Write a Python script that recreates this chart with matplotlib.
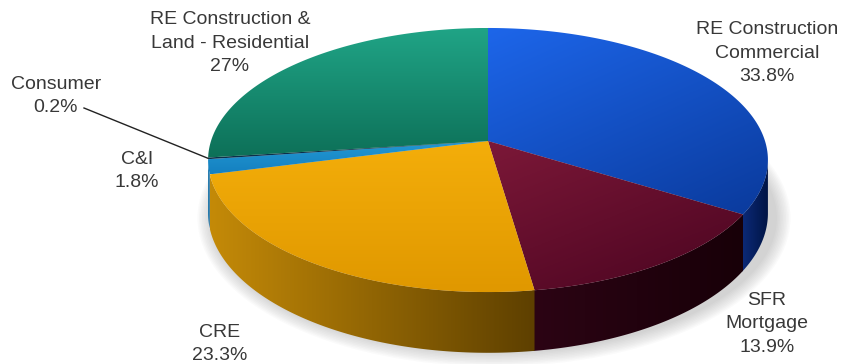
import numpy as np
import matplotlib
matplotlib.use("Agg")
import matplotlib.pyplot as plt
from matplotlib.patches import Polygon, Ellipse
from matplotlib.colors import LinearSegmentedColormap

# Loan portfolio mix
categories = [
    "RE Construction\nCommercial",
    "SFR\nMortgage",
    "CRE",
    "C&I",
    "Consumer",
    "RE Construction &\nLand - Residential",
]
shares = [33.8, 13.9, 23.3, 1.8, 0.2, 27.0]

# top colour pairs (light, dark) and wall colour pairs
top_colors = [
    ("#1d66ea", "#0a3a9c"),
    ("#7c1838", "#4a0420"),
    ("#f4ae0a", "#e09800"),
    ("#2399d4", "#1480c0"),
    ("#0b2f4a", "#0b2f4a"),
    ("#20a486", "#0d7058"),
]
wall_colors = [
    ("#0c2a78", "#001445"),
    ("#2c0414", "#180008"),
    ("#c48a08", "#5e4000"),
    ("#1a78b0", "#10608f"),
    ("#0b2f4a", "#0b2f4a"),
    ("#0d745a", "#0a5a46"),
]

# label anchors in pixel space
label_pos = [(767, 53), (767, 324), (220, 344), (137, 171), (56, 96), (230, 43)]

# pie geometry in pixels: apex, radius, vertical squash, perspective, height
CX, CY = 488, 141
RX, SY = 277, 129.3
K = 0.144
H = 52


def project(theta_deg, drop=0.0):
    t = np.radians(theta_deg)
    w = 1 + K * np.sin(t)
    x = CX + RX * np.cos(t) / w
    y = CY - SY * np.sin(t) / w + drop / w
    return x, y


def fill_gradient(ax, xs, ys, c0, c1, direction="v", z=2):
    poly = Polygon(np.column_stack([xs, ys]), closed=True,
                   facecolor="none", edgecolor="none", zorder=z)
    ax.add_patch(poly)
    x0, x1 = xs.min(), xs.max()
    y0, y1 = ys.min(), ys.max()
    n = 200
    gy, gx = np.mgrid[0:1:n * 1j, 0:1:n * 1j]
    if direction == "v":
        grad = gy
    elif direction == "h":
        grad = gx
    else:
        grad = 0.6 * gy + 0.4 * gx
    cmap = LinearSegmentedColormap.from_list("g", [c0, c1])
    im = ax.imshow(grad, cmap=cmap, extent=(x0, x1, y1, y0), origin="upper",
                   aspect="auto", interpolation="bilinear", vmin=0, vmax=1,
                   zorder=z)
    im.set_clip_path(poly)


fig = plt.figure(figsize=(8.43, 3.64), dpi=100)
ax = fig.add_axes([0, 0, 1, 1])
ax.axis("off")

# soft shadow under the pie
for i in range(10):
    ax.add_patch(Ellipse((494, 218), 566 + 3 * i, 270 + 3 * i,
                         facecolor="#707070", edgecolor="none",
                         alpha=0.03, zorder=0))

# slice angles, clockwise from 12 o'clock
total = sum(shares)
starts, ends = [], []
a = 90.0
for s in shares:
    starts.append(a)
    a -= 360.0 * s / total
    ends.append(a)

# visible front wall lies between the two silhouette tangents
right_lim = np.degrees(np.arcsin(-K))
left_lim = -180 - right_lim

for i in range(len(shares)):
    # small overlap hides anti-aliasing seams between neighbouring walls
    lo = max(ends[i] - 0.4, left_lim)
    hi = min(starts[i], right_lim)
    if lo >= hi:
        continue
    th = np.linspace(lo, hi, 120)
    tx, ty = project(th)
    bx, by = project(th[::-1], H)
    xs = np.concatenate([tx, bx])
    ys = np.concatenate([ty, by])
    fill_gradient(ax, xs, ys, wall_colors[i][0], wall_colors[i][1], "h", z=2)

for i in range(len(shares)):
    th = np.linspace(starts[i], ends[i], max(4, int(abs(starts[i] - ends[i]) * 2)))
    ax_, ay_ = project(th)
    xs = np.concatenate([[CX], ax_])
    ys = np.concatenate([[CY], ay_])
    direction = "d" if i in (0, 1) else "v"
    fill_gradient(ax, xs, ys, top_colors[i][0], top_colors[i][1], direction, z=3)

# labels
for i, (cat, s) in enumerate(zip(categories, shares)):
    lx, ly = label_pos[i]
    ax.text(lx, ly, f"{cat}\n{s:g}%", ha="center", va="center",
            fontsize=14, color="#383838", family="Liberation Sans",
            linespacing=1.5, zorder=5)

# leader line for the thin Consumer slice
ci = categories.index("Consumer")
ex, ey = project((starts[ci] + ends[ci]) / 2)
ax.plot([label_pos[ci][0] + 28, ex], [label_pos[ci][1] + 12, ey],
        color="#222222", lw=1.0, zorder=5)

ax.set_xlim(0, 843)
ax.set_ylim(364, 0)
fig.savefig("out.png", dpi=100)
